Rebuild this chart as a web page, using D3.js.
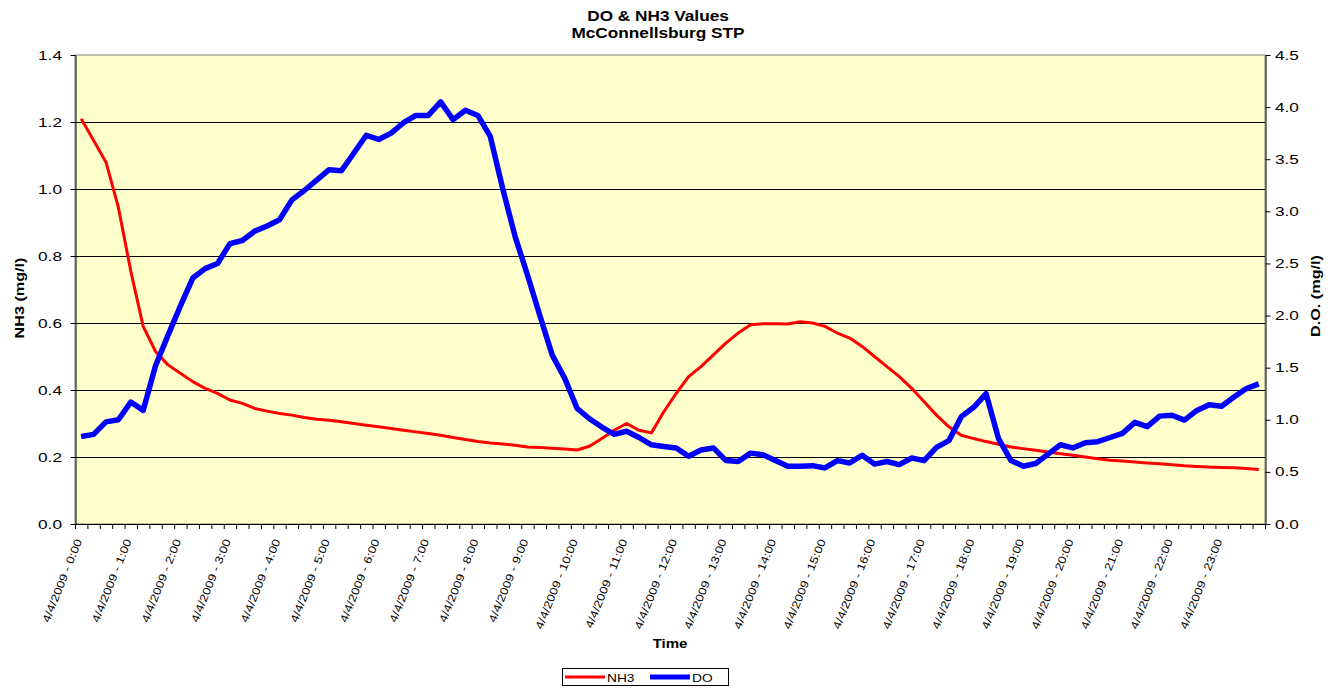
<!DOCTYPE html>
<html>
<head>
<meta charset="utf-8">
<script src="https://cdn.jsdelivr.net/npm/d3@7"></script>
<style>
  body { margin: 0; background: #fff; }
  svg { display: block; }
  text { font-family: "Liberation Sans", Arial, sans-serif; fill: #000; }
</style>
</head>
<body>
<div id="chart"></div>
<script>
// 15 minute readings for 4/4/2009
const categories = [
  "0:00","0:15","0:30","0:45","1:00","1:15","1:30","1:45","2:00","2:15","2:30","2:45",
  "3:00","3:15","3:30","3:45","4:00","4:15","4:30","4:45","5:00","5:15","5:30","5:45",
  "6:00","6:15","6:30","6:45","7:00","7:15","7:30","7:45","8:00","8:15","8:30","8:45",
  "9:00","9:15","9:30","9:45","10:00","10:15","10:30","10:45","11:00","11:15","11:30","11:45",
  "12:00","12:15","12:30","12:45","13:00","13:15","13:30","13:45","14:00","14:15","14:30","14:45",
  "15:00","15:15","15:30","15:45","16:00","16:15","16:30","16:45","17:00","17:15","17:30","17:45",
  "18:00","18:15","18:30","18:45","19:00","19:15","19:30","19:45","20:00","20:15","20:30","20:45",
  "21:00","21:15","21:30","21:45","22:00","22:15","22:30","22:45","23:00","23:15","23:30","23:45"
];

const hourLabels = [
  "4/4/2009 - 0:00","4/4/2009 - 1:00","4/4/2009 - 2:00","4/4/2009 - 3:00",
  "4/4/2009 - 4:00","4/4/2009 - 5:00","4/4/2009 - 6:00","4/4/2009 - 7:00",
  "4/4/2009 - 8:00","4/4/2009 - 9:00","4/4/2009 - 10:00","4/4/2009 - 11:00",
  "4/4/2009 - 12:00","4/4/2009 - 13:00","4/4/2009 - 14:00","4/4/2009 - 15:00",
  "4/4/2009 - 16:00","4/4/2009 - 17:00","4/4/2009 - 18:00","4/4/2009 - 19:00",
  "4/4/2009 - 20:00","4/4/2009 - 21:00","4/4/2009 - 22:00","4/4/2009 - 23:00"
];

const nh3 = [
  1.21, 1.145, 1.08, 0.945, 0.755, 0.59, 0.515, 0.475, 0.45, 0.425,
  0.405, 0.39, 0.37, 0.36, 0.345, 0.337, 0.33, 0.325, 0.318, 0.313,
  0.31, 0.305, 0.30, 0.295, 0.29, 0.285, 0.28, 0.275, 0.27, 0.265,
  0.258, 0.252, 0.246, 0.242, 0.239, 0.235, 0.23, 0.228, 0.226, 0.224,
  0.221, 0.232, 0.255, 0.28, 0.30, 0.28, 0.272, 0.335, 0.39, 0.44,
  0.47, 0.505, 0.54, 0.57, 0.595, 0.598, 0.598, 0.597, 0.604, 0.60,
  0.59, 0.57, 0.555, 0.53, 0.50, 0.47, 0.44, 0.405, 0.365, 0.325,
  0.29, 0.265, 0.255, 0.246, 0.238, 0.23, 0.225, 0.22, 0.215, 0.21,
  0.205, 0.20, 0.195, 0.19, 0.188, 0.185, 0.182, 0.18, 0.177, 0.174,
  0.172, 0.17, 0.169, 0.168, 0.166, 0.163
];

const dissolvedO2 = [
  0.84, 0.86, 0.98, 1.0, 1.17, 1.09, 1.52, 1.81, 2.09, 2.36,
  2.45, 2.50, 2.69, 2.72, 2.81, 2.86, 2.92, 3.11, 3.20, 3.30,
  3.40, 3.39, 3.56, 3.73, 3.69, 3.75, 3.85, 3.92, 3.92, 4.05,
  3.88, 3.97, 3.92, 3.72, 3.22, 2.76, 2.39, 2.0, 1.62, 1.40,
  1.11, 1.01, 0.93, 0.86, 0.89, 0.83, 0.76, 0.744, 0.73, 0.65,
  0.71, 0.73, 0.61, 0.60, 0.68, 0.665, 0.61, 0.554, 0.554, 0.56,
  0.538, 0.608, 0.586, 0.66, 0.575, 0.60, 0.57, 0.633, 0.608, 0.735,
  0.80, 1.03, 1.12, 1.25, 0.82, 0.61, 0.554, 0.58, 0.67, 0.76,
  0.73, 0.78, 0.79, 0.83, 0.87, 0.975, 0.934, 1.035, 1.044, 0.997,
  1.09, 1.145, 1.13, 1.218, 1.30, 1.345
];

const leftTicks = [0, 0.2, 0.4, 0.6, 0.8, 1.0, 1.2, 1.4];
const rightTicks = [0, 0.5, 1.0, 1.5, 2.0, 2.5, 3.0, 3.5, 4.0, 4.5];

const width = 1337, height = 695;
const plot = {left: 75, right: 1265, top: 55, bottom: 524};
const sx = 1.3; // reference text is drawn wide

const svg = d3.select("#chart").append("svg")
    .attr("width", width)
    .attr("height", height);

const x = d3.scaleBand().domain(categories).range([plot.left, plot.right]).padding(0);
const yL = d3.scaleLinear().domain([0, 1.4]).range([plot.bottom, plot.top]);
const yR = d3.scaleLinear().domain([0, 4.5]).range([plot.bottom, plot.top]);
const cx = c => x(c) + x.bandwidth() / 2;

function wideText(g, tx, ty, rot, str, size, weight, anchor, scale){
    return g.append("text")
        .attr("transform", "translate(" + tx + "," + ty + ") rotate(" + rot + ") scale(" + (scale || sx) + ",1)")
        .attr("text-anchor", anchor || "middle")
        .style("font-size", size + "px")
        .style("font-weight", weight || "normal")
        .text(str);
}

// plot area
svg.append("rect")
    .attr("x", plot.left).attr("y", plot.top)
    .attr("width", plot.right - plot.left).attr("height", plot.bottom - plot.top)
    .attr("fill", "#FFFFCC")
    .attr("stroke", "#808080")
    .attr("stroke-width", 1);

// gridlines
svg.append("g").selectAll("line")
    .data(leftTicks.filter(d => d > 0 && d < 1.4))
    .enter().append("line")
    .attr("x1", plot.left).attr("x2", plot.right)
    .attr("y1", d => Math.round(yL(d)) + 0.5).attr("y2", d => Math.round(yL(d)) + 0.5)
    .attr("stroke", "#000").attr("stroke-width", 1);

// left axis
const gl = svg.append("g").attr("transform", "translate(" + (plot.left + 0.5) + ",0)")
    .call(d3.axisLeft(yL).tickValues(leftTicks).tickSize(5).tickSizeOuter(0).tickFormat(d3.format(".1f")));
gl.select(".domain").attr("stroke", "#000");
gl.selectAll(".tick line").attr("stroke", "#000");
gl.selectAll(".tick text").remove();
leftTicks.forEach(v => wideText(svg, plot.left - 13, yL(v) + 4.5, 0, d3.format(".1f")(v), 12.5, "normal", "end", 1.38));

// right axis
const gr = svg.append("g").attr("transform", "translate(" + (plot.right + 0.5) + ",0)")
    .call(d3.axisRight(yR).tickValues(rightTicks).tickSize(5).tickSizeOuter(0));
gr.select(".domain").attr("stroke", "#000");
gr.selectAll(".tick line").attr("stroke", "#000");
gr.selectAll(".tick text").remove();
rightTicks.forEach(v => wideText(svg, plot.right + 10, yR(v) + 4.5, 0, d3.format(".1f")(v), 12.5, "normal", "start", 1.38));

// category axis
svg.append("line")
    .attr("x1", plot.left).attr("x2", plot.right + 1)
    .attr("y1", plot.bottom + 0.5).attr("y2", plot.bottom + 0.5)
    .attr("stroke", "#000");
svg.append("g").selectAll("line")
    .data(categories.concat([null]))
    .enter().append("line")
    .attr("x1", d => (d === null ? plot.right : x(d)) + 0.5)
    .attr("x2", d => (d === null ? plot.right : x(d)) + 0.5)
    .attr("y1", plot.bottom).attr("y2", plot.bottom + 5)
    .attr("stroke", "#000");
categories.forEach((c, i) => {
    if(i % 4 === 0){
        wideText(svg, cx(c) + 1, plot.bottom + 17, -68, hourLabels[i / 4], 11, "normal", "end", 1.2);
    }
});

// series
const nh3Line = d3.line().x((d, i) => cx(categories[i])).y(d => yL(d));
const doLine = d3.line().x((d, i) => cx(categories[i])).y(d => yR(d));

svg.append("path")
    .attr("d", nh3Line(nh3))
    .attr("fill", "none")
    .attr("stroke", "#FF0000")
    .attr("stroke-width", 3)
    .attr("stroke-linejoin", "round");

svg.append("path")
    .attr("d", doLine(dissolvedO2))
    .attr("fill", "none")
    .attr("stroke", "#0000FF")
    .attr("stroke-width", 5.5)
    .attr("stroke-linejoin", "round");

// titles
wideText(svg, 658, 21, 0, "DO & NH3 Values", 14, "bold", "middle", 1.23);
wideText(svg, 658, 38, 0, "McConnellsburg STP", 14, "bold", "middle", 1.23);
wideText(svg, 670, 648, 0, "Time", 12, "bold", "middle", 1.25);
wideText(svg, 24, 298, -90, "NH3 (mg/l)", 12, "bold", "middle", 1.35);
wideText(svg, 1320, 296, -90, "D.O. (mg/l)", 12, "bold", "middle", 1.35);

// legend
const lg = svg.append("g");
lg.append("rect")
    .attr("x", 562.5).attr("y", 668.5).attr("width", 166).attr("height", 17)
    .attr("fill", "#fff").attr("stroke", "#000");
lg.append("line").attr("x1", 565).attr("x2", 605).attr("y1", 677).attr("y2", 677)
    .attr("stroke", "#FF0000").attr("stroke-width", 3);
wideText(lg, 607, 681.5, 0, "NH3", 11, "normal", "start", 1.25);
lg.append("line").attr("x1", 650).attr("x2", 690).attr("y1", 677).attr("y2", 677)
    .attr("stroke", "#0000FF").attr("stroke-width", 5);
wideText(lg, 692, 681.5, 0, "DO", 11, "normal", "start", 1.25);
</script>
</body>
</html>
